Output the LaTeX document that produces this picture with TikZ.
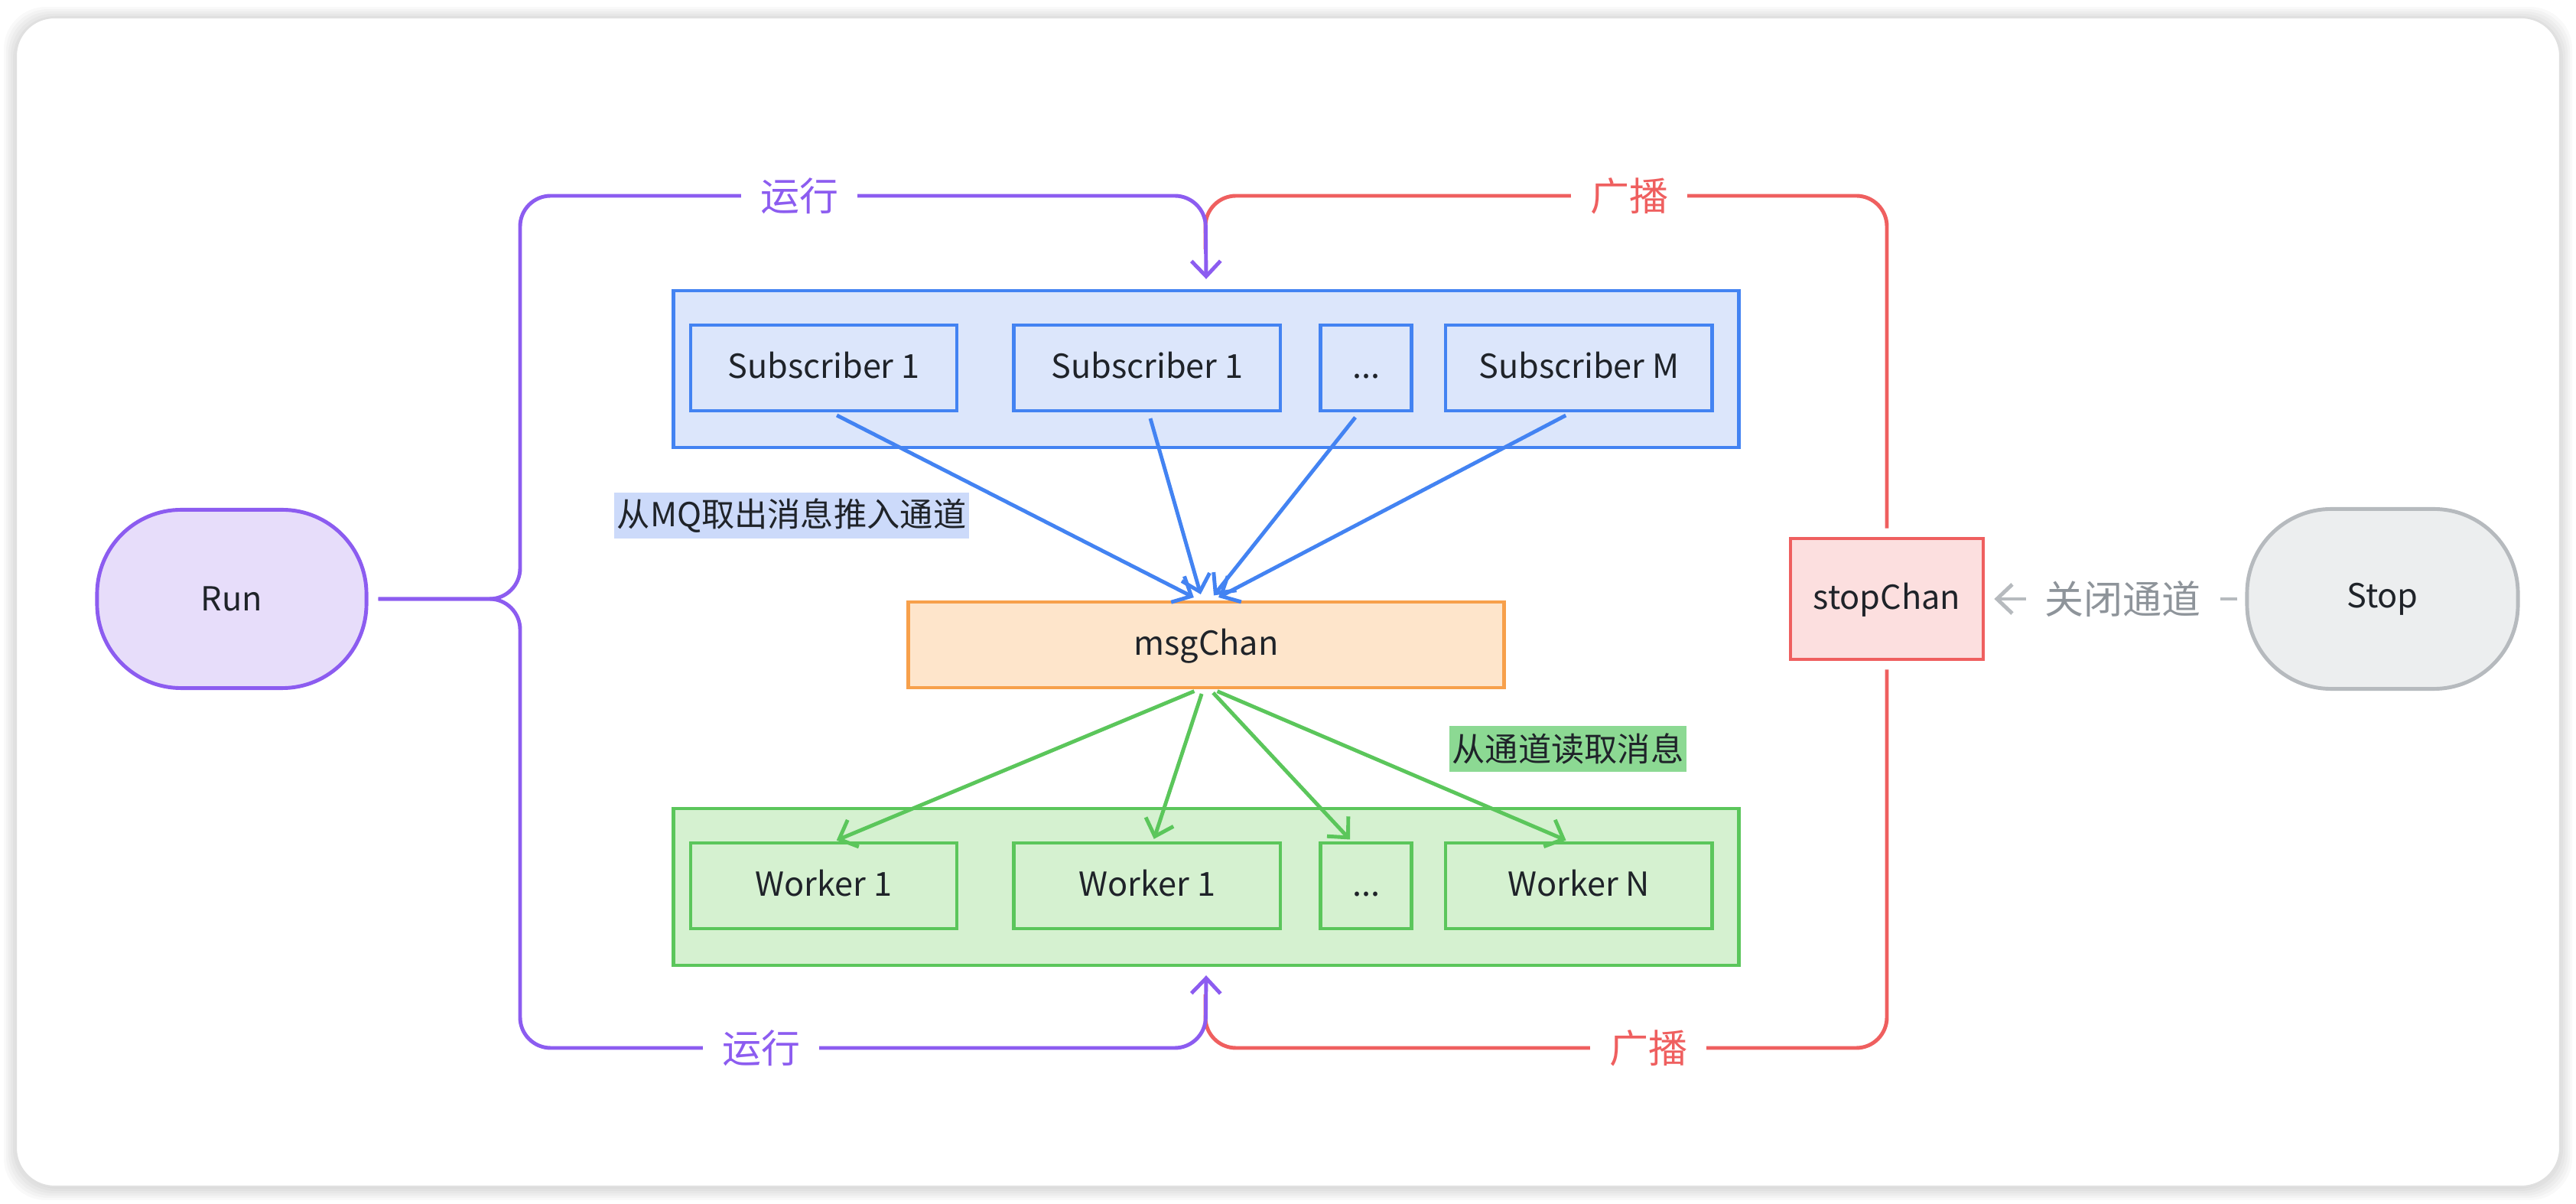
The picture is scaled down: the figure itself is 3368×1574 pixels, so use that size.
\documentclass[tikz,border=0pt]{standalone}
\usepackage{fontspec}
\setmainfont{Noto Sans CJK SC}
\usetikzlibrary{positioning, arrows.meta}

\definecolor{runpurple}{HTML}{8C5CF0}
\definecolor{runfill}{HTML}{E7DDFA}
\definecolor{subblue}{HTML}{4383F2}
\definecolor{subfill}{HTML}{DCE6FB}
\definecolor{tagblue}{HTML}{CCDAFA}
\definecolor{chanorange}{HTML}{F7A04B}
\definecolor{chanfill}{HTML}{FEE5CB}
\definecolor{wrkgreen}{HTML}{5BC65B}
\definecolor{wrkfill}{HTML}{D5F1D0}
\definecolor{taggreen}{HTML}{8CD993}
\definecolor{stopred}{HTML}{EF5F5F}
\definecolor{stopfill}{HTML}{FCDFDF}
\definecolor{stopgray}{HTML}{B6BABE}
\definecolor{stopgfill}{HTML}{ECEEEF}
\definecolor{labelgray}{HTML}{8E949A}
\definecolor{inktext}{HTML}{1F2329}

\begin{document}
\begin{tikzpicture}[
        x=0.01cm, y=-0.01cm,
        every node/.style={font=\fontsize{12.3}{14}\selectfont, text=inktext},
        grp/.style={draw, line width=1.2pt, minimum width=13.92cm, minimum height=2.05cm},
        box/.style={draw, line width=1.3pt, minimum width=3.48cm, minimum height=1.12cm,
            inner sep=0pt, text height=0.75em, text depth=0pt},
        dots_box/.style={minimum width=1.19cm},
        sub_box/.style={box, draw=subblue, fill=subfill},
        wrk_box/.style={box, draw=wrkgreen, fill=wrkfill},
        pill/.style={draw, line width=1.4pt, rounded corners=1.1cm,
            minimum width=3.52cm, minimum height=2.33cm},
        flow/.style={line width=1.4pt, -{Straight Barb[length=0.2cm, width=0.38cm]}},
        path_tag/.style={fill=white, inner xsep=0.25cm, inner ysep=2pt,
            font=\fontsize{14.5}{16}\selectfont},
        note/.style={inner xsep=1pt, inner ysep=0pt, minimum height=0.6cm}
      ]
        \useasboundingbox (0,0) rectangle (3368,1574);
        \fill[white] (0,0) rectangle (3368,1574);
        % card with soft shadow
        \foreach \s in {16,13,...,1}
          \fill[black, opacity=0.025, rounded corners=0.55cm]
            ({21-\s},{25-\s}) rectangle ({3347+\s},{1553+\s});
        \filldraw[fill=white, draw=black!12, line width=0.6pt, rounded corners=0.5cm]
          (21,23) rectangle (3347,1551);

        % groups
        \node[grp, draw=subblue, fill=subfill] (sub_grp) at (1577,482.5) {};
        \node[grp, draw=wrkgreen, fill=wrkfill] (wrk_grp) at (1577,1159.5) {};

        % subscribers
        \node[sub_box] (sub_1) at (1077,481) {Subscriber 1};
        \node[sub_box, right=0.70cm of sub_1] (sub_2) {Subscriber 1};
        \node[sub_box, dots_box, right=0.48cm of sub_2] (sub_dots) {...};
        \node[sub_box, right=0.40cm of sub_dots] (sub_m) {Subscriber M};

        % workers
        \node[wrk_box] (wrk_1) at (1077,1158) {Worker 1};
        \node[wrk_box, right=0.70cm of wrk_1] (wrk_2) {Worker 1};
        \node[wrk_box, dots_box, right=0.48cm of wrk_2] (wrk_dots) {...};
        \node[wrk_box, right=0.40cm of wrk_dots] (wrk_n) {Worker N};

        \node[box, draw=chanorange, fill=chanfill, minimum width=7.78cm] (msg) at (1577,843) {msgChan};
        \node[box, draw=stopred, fill=stopfill, minimum width=2.52cm, minimum height=1.58cm] (stop_chan) at (2467,783) {stopChan};
        \node[pill, draw=runpurple, fill=runfill] (run) at (303,783) {Run};
        \node[pill, draw=stopgray, fill=stopgfill, minimum width=3.54cm, minimum height=2.35cm] (stop) at (3115,783) {Stop};

        \coordinate (brace) at (680,783);
        \coordinate (top_mid) at (1576,256);
        \coordinate (bot_mid) at (1576,1370);

        % broadcast
        \draw[draw=stopred, line width=1.4pt, rounded corners=0.4cm]
          ([yshift=0.11cm]stop_chan.north) |- (top_mid) -- ++(0,70);
        \draw[draw=stopred, line width=1.4pt, rounded corners=0.4cm]
          ([yshift=-0.11cm]stop_chan.south) |- (bot_mid) -- ++(0,-70);

        % run
        \draw[flow, draw=runpurple, rounded corners=0.4cm]
          ([xshift=0.13cm]run.east) -- (brace) |- (top_mid) -- ([yshift=0.13cm]sub_grp.north);
        \draw[flow, draw=runpurple, rounded corners=0.4cm]
          ([xshift=0.13cm]run.east) -- (brace) |- (bot_mid) -- ([yshift=-0.11cm]wrk_grp.south);

        % subscribers -> msgChan
        \foreach \src/\sx/\dx in {sub_1/0.1/-0.09, sub_2/0.02/-0.05, sub_dots/-0.09/0.05, sub_m/-0.1/0.09}
          \draw[flow, draw=subblue, shorten <=0.08cm, shorten >=0.08cm]
            ([xshift=\sx cm]\src.south) -- ([xshift=\dx cm]msg.north);

        % msgChan -> workers
        \foreach \dst/\dx/\tx in {wrk_1/-0.1/0.14, wrk_2/-0.04/0.08, wrk_dots/0.05/-0.19, wrk_n/0.09/-0.14}
          \draw[flow, draw=wrkgreen, shorten <=0.06cm, shorten >=0.03cm]
            ([xshift=\dx cm]msg.south) -- ([xshift=\tx cm]\dst.north);

        % close
        \draw[flow, draw=stopgray, shorten <=0.1cm, shorten >=0.12cm]
          (stop.west) -- (stop_chan.east)
          node[pos=0.47, path_tag, text=labelgray] (close_tag) {关闭通道};

        % labels
        \node[path_tag, text=runpurple] (run_top) at (1045,256) {运行};
        \node[path_tag, text=runpurple] (run_bot) at (995,1370) {运行};
        \node[path_tag, text=stopred] (cast_top) at (2130,256) {广播};
        \node[path_tag, text=stopred] (cast_bot) at (2155,1370) {广播};
        \node[note, fill=tagblue] (mq_tag) at (1035,674) {从MQ取出消息推入通道};
        \node[note, fill=taggreen] (read_tag) at (2050,979) {从通道读取消息};
      \end{tikzpicture}
\end{document}
